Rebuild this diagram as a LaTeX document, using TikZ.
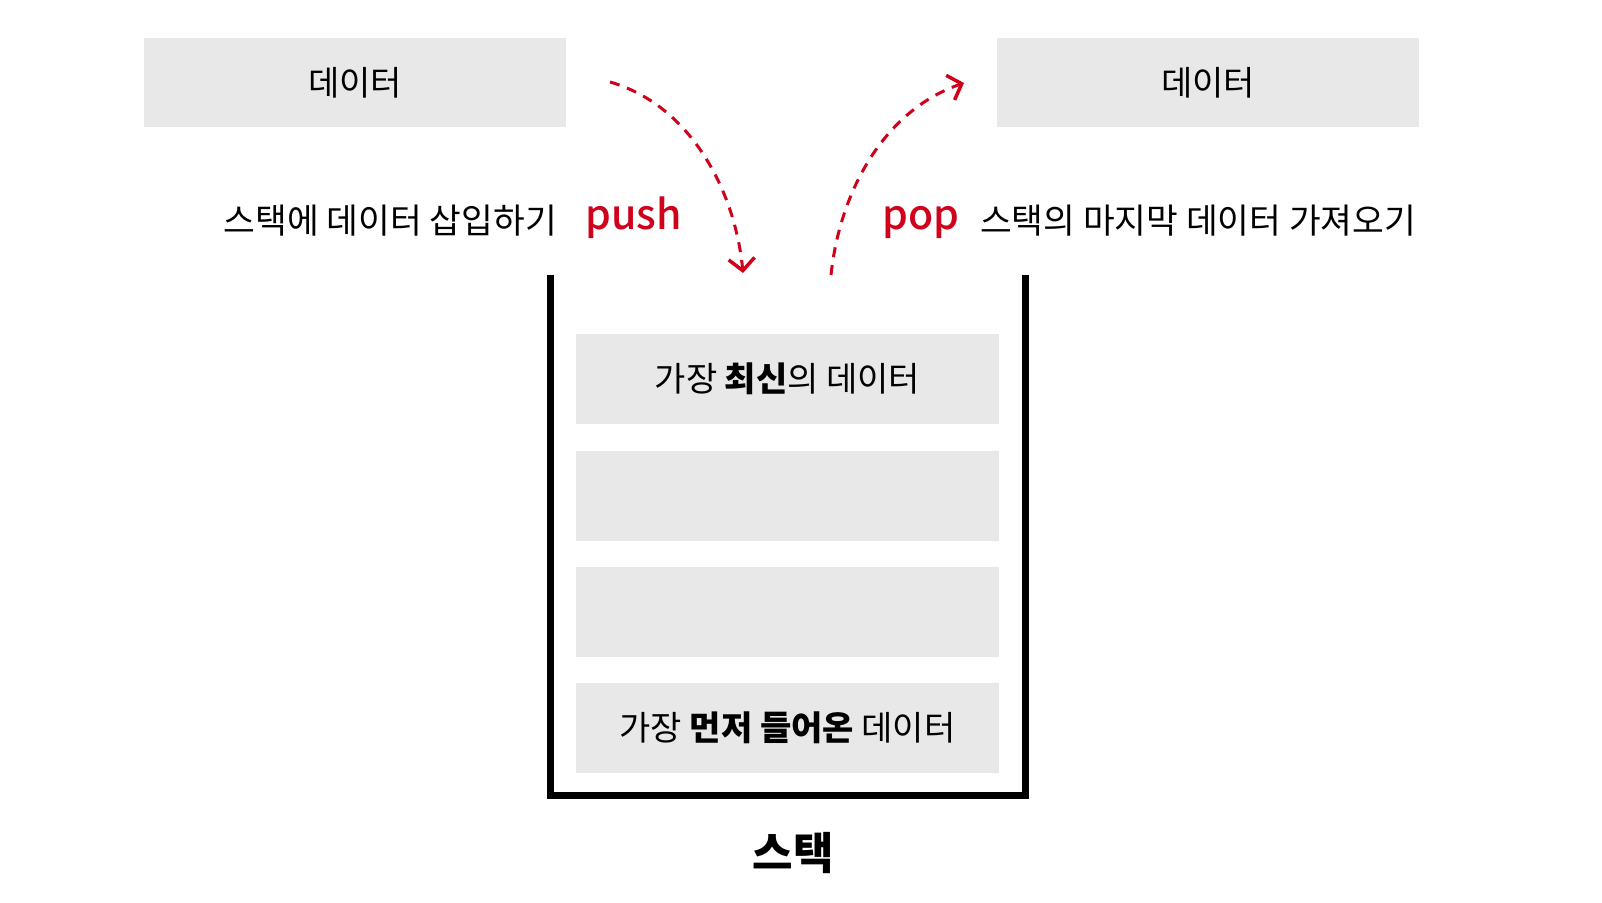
\documentclass[tikz,border=0pt]{standalone}
\usepackage{fontspec}
\setmainfont{Noto Sans CJK KR}
\newfontfamily\kwfont{Noto Sans CJK KR Medium}
\usetikzlibrary{arrows.meta}
\definecolor{boxgray}{RGB}{232,232,232}
\definecolor{accent}{RGB}{208,2,27}
\begin{document}
\begin{tikzpicture}[x=1pt,y=-1pt,
 databox/.style={fill=boxgray, minimum width=422pt, minimum height=89pt, inner sep=0pt, font=\fontsize{34}{40}\selectfont},
 sidetext/.style={font=\fontsize{34.5}{40}\selectfont, inner sep=0pt},
 keyword/.style={font=\fontsize{41}{48}\kwfont, text=accent, inner sep=0pt},
 flow/.style={accent, line width=3pt, dash pattern=on 10pt off 8pt, -{Straight Barb[length=12pt,width=26pt,line width=3.5pt]}},
 wall/.style={line width=7pt, line join=miter}
]
\useasboundingbox (0,0) rectangle (1602,902);

% top data boxes
\node[databox] (inbox) at (355,82.5) {데이터};
\node[databox] (outbox) at (1208,82.5) {데이터};

% side labels
\node[sidetext, anchor=base east] (pushtext) at (557,233) {스택에 데이터 삽입하기};
\node[keyword, anchor=base west] (push) at (585,229) {push};
\node[keyword, anchor=base west] (pop) at (882,229) {pop};
\node[sidetext, anchor=base west] (poptext) at (980,233) {스택의 마지막 데이터 가져오기};

% stack container
\coordinate (wallTL) at (550,275);
\coordinate (wallBL) at (550,795);
\coordinate (wallBR) at (1025,795);
\coordinate (wallTR) at (1025,275);
\draw[wall] (wallTL) -- (wallBL) -- (wallBR) -- (wallTR);

% stack items
\node[databox, minimum width=423pt, minimum height=90pt] (s1) at (787.5,379) {가장 \textbf{최신}의 데이터};
\node[databox, minimum width=423pt, minimum height=90pt] (s2) at (787.5,495.5) {};
\node[databox, minimum width=423pt, minimum height=90pt] (s3) at (787.5,612) {};
\node[databox, minimum width=423pt, minimum height=90pt] (s4) at (787.5,728) {가장 \textbf{먼저 들어온} 데이터};

% stack caption
\node[font=\fontsize{44}{52}\selectfont\bfseries, inner sep=0pt] (caption) at (793,853) {스택};

% arrows
\coordinate (pushstart) at (610,82);
\coordinate (pushend) at (743,273);
\coordinate (popstart) at (831,275);
\coordinate (popend) at (964,83);
\draw[flow] (pushstart) .. controls (690,105) and (735,190) .. (pushend);
\draw[flow] (popstart) .. controls (840,190) and (885,110) .. (popend);
\end{tikzpicture}
\end{document}
